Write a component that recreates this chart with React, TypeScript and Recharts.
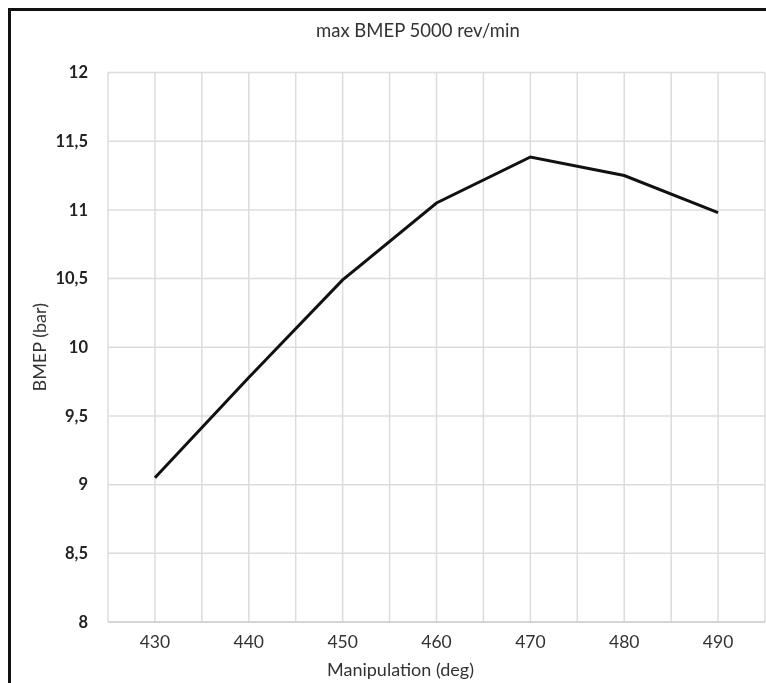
import React from 'react';
import { LineChart, Line, XAxis, YAxis, CartesianGrid, Label } from 'recharts';

const manipulation = [430, 440, 450, 460, 470, 480, 490];
const bmep = [9.05, 9.78, 10.49, 11.05, 11.385, 11.25, 10.98];
const xGridTicks = [425, 430, 435, 440, 445, 450, 455, 460, 465, 470, 475, 480, 485, 490, 495];
const xLabelTicks = [430, 440, 450, 460, 470, 480, 490];
const yTicks = [8, 8.5, 9, 9.5, 10, 10.5, 11, 11.5, 12];
const title = 'max BMEP 5000 rev/min';
const xTitle = 'Manipulation (deg)';
const yTitle = 'BMEP (bar)';

const data = manipulation.map((m, i) => ({ x: m, y: bmep[i] }));

const FONT = 'Lato, "Open Sans", sans-serif';

export default function App() {
  return (
    <div style={{ fontFamily: FONT }}>
      <div style={{ position: 'fixed', left: 8, top: 8, width: 758, height: 3, background: '#111' }} />
      <div style={{ position: 'fixed', left: 8, top: 8, width: 3, height: 675, background: '#111' }} />
      <div
        style={{
          position: 'fixed',
          left: 316,
          top: 19,
          width: 200,
          textAlign: 'center',
          fontSize: 18.5,
          color: '#333',
          whiteSpace: 'nowrap',
          lineHeight: '22px',
        }}
      >
        {title}
      </div>
      <div style={{ position: 'fixed', left: 11, top: 11 }}>
        <LineChart
          width={755}
          height={672}
          data={data}
          margin={{ top: 61.5, right: 1, left: 0, bottom: 0 }}
        >
          <CartesianGrid stroke="#dcdcdc" strokeWidth={1.5} />
          <XAxis
            dataKey="x"
            type="number"
            domain={[425, 495]}
            ticks={xGridTicks}
            interval={0}
            tickFormatter={(v: number) => (xLabelTicks.includes(v) ? String(v) : '')}
            height={61}
            tickSize={0}
            tickMargin={14}
            axisLine={{ stroke: '#d0d0d0', strokeWidth: 1.5 }}
            tickLine={false}
            tick={{ fill: '#333', fontSize: 17.5, fontFamily: FONT }}
          >
            <Label
              value={xTitle}
              position="center"
              dx={-36}
              dy={17}
              style={{ fill: '#333', fontSize: 18, fontFamily: FONT }}
            />
          </XAxis>
          <YAxis
            type="number"
            domain={[8, 12]}
            ticks={yTicks}
            interval={0}
            width={97}
            tickSize={0}
            tickMargin={20}
            axisLine={false}
            tickLine={false}
            tickFormatter={(v: number) => String(v).replace('.', ',')}
            tick={{ fill: '#222', fontSize: 16.5, fontWeight: 'bold', fontFamily: FONT }}
          >
            <Label
              value={yTitle}
              angle={-90}
              position="center"
              dx={-19.5}
              style={{ fill: '#333', fontSize: 18, fontFamily: FONT, textAnchor: 'middle' }}
            />
          </YAxis>
          <Line
            type="linear"
            dataKey="y"
            stroke="#111"
            strokeWidth={3}
            dot={false}
            isAnimationActive={false}
          />
        </LineChart>
      </div>
    </div>
  );
}
